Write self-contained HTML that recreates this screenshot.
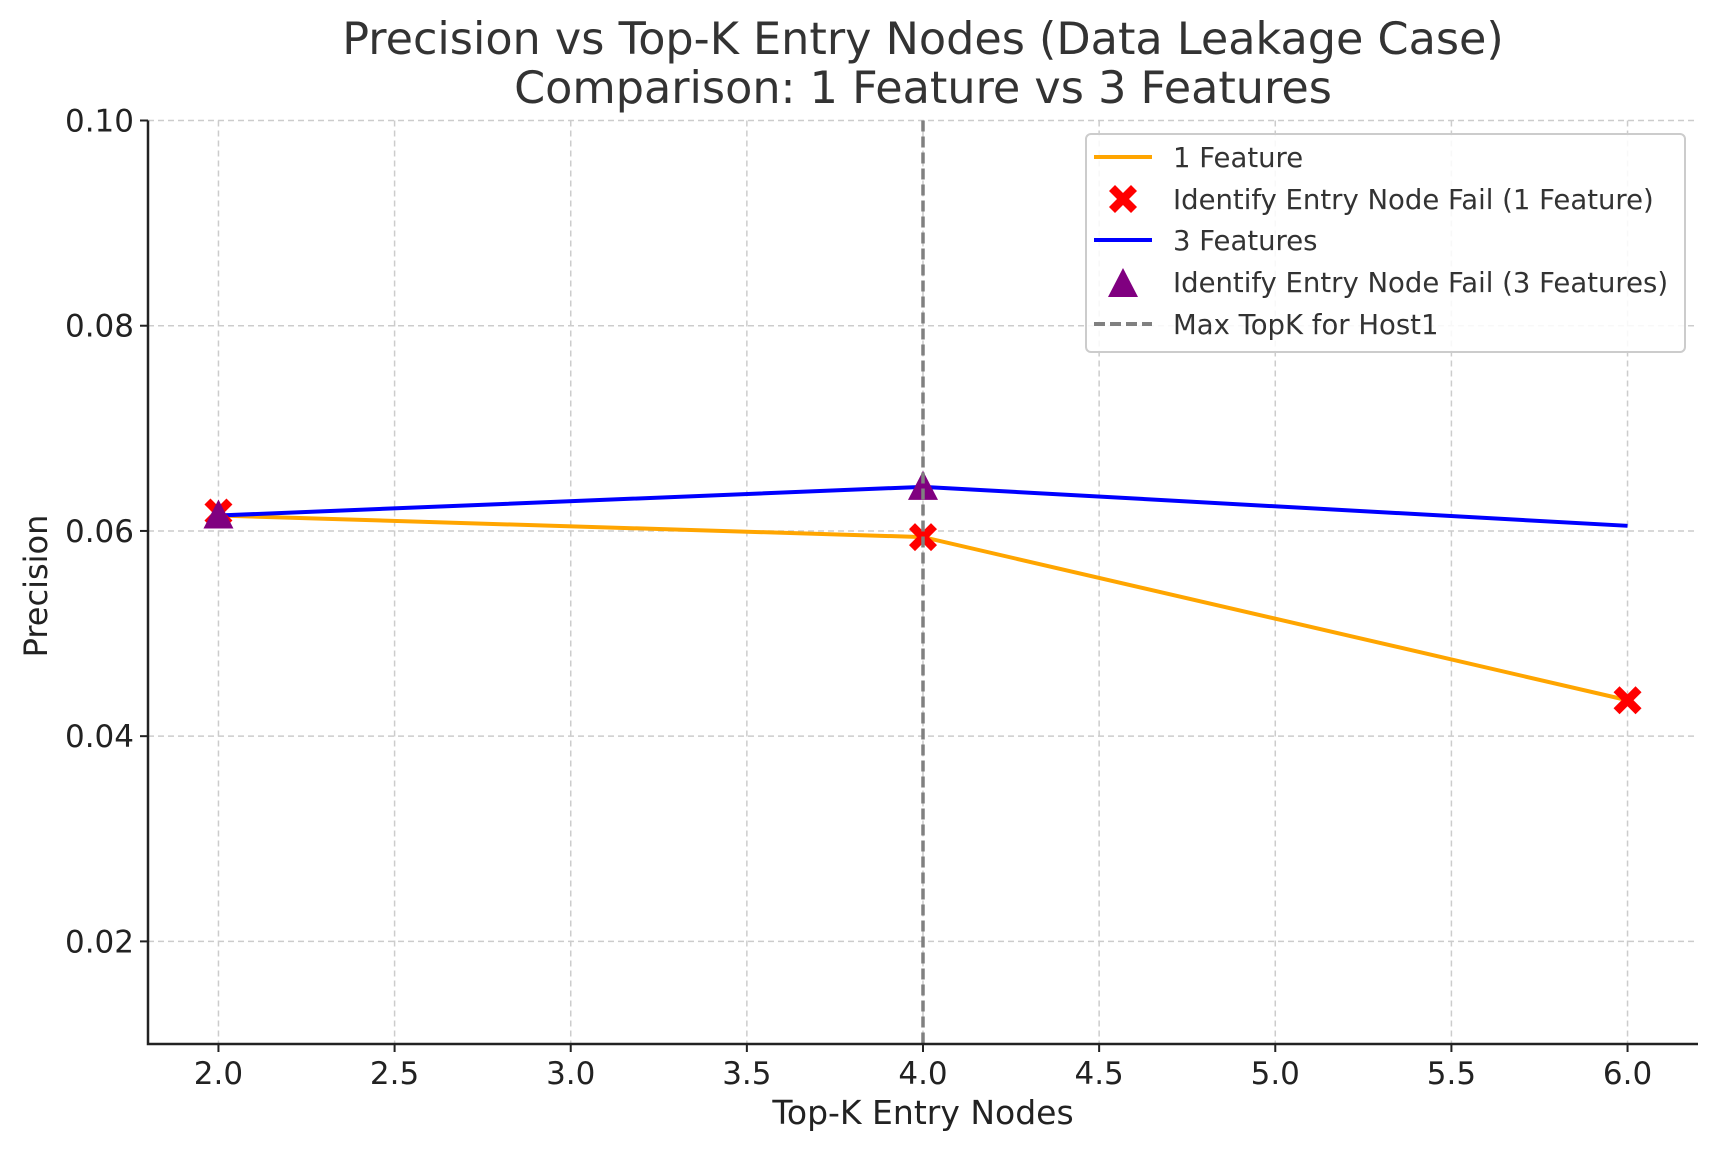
<!DOCTYPE html>
<html><head><meta charset="utf-8"><style>
html,body{margin:0;padding:0;background:#fff}
svg{display:block;font-family:"DejaVu Sans","Liberation Sans",sans-serif}
</style></head><body>
<svg id="chart" width="1718" height="1151" viewBox="0 0 1718 1151">
<rect width="1718" height="1151" fill="#fff"/>
<g id="grid"></g>
<g id="plot"></g>
<g id="axes"></g>
<text x="923" y="54" font-size="44.5" fill="#333" text-anchor="middle">Precision vs Top-K Entry Nodes (Data Leakage Case)</text>
<text x="923" y="103" font-size="44.5" fill="#333" text-anchor="middle">Comparison: 1 Feature vs 3 Features</text>
<text x="923" y="1124" font-size="33" fill="#222" text-anchor="middle">Top-K Entry Nodes</text>
<text transform="translate(47,586) rotate(-90)" font-size="32" fill="#222" text-anchor="middle">Precision</text>
<g>
<rect x="1086" y="134" width="599" height="218" rx="5" fill="#fff" fill-opacity="0.85" stroke="#ccc" stroke-width="2"/>
<line x1="1094" y1="157" x2="1152" y2="157" stroke="orange" stroke-width="4"/>
<text x="1173" y="167" font-size="27.5" fill="#333">1 Feature</text>
<path d="M-14,-8L-8,-14L0,-6L8,-14L14,-8L6,0L14,8L8,14L0,6L-8,14L-14,8L-6,0Z" transform="translate(1123,199)" fill="red"/>
<text x="1173" y="209" font-size="27.5" fill="#333">Identify Entry Node Fail (1 Feature)</text>
<line x1="1094" y1="240" x2="1152" y2="240" stroke="blue" stroke-width="4"/>
<text x="1173" y="250" font-size="27.5" fill="#333">3 Features</text>
<path d="M0,-16L15,13L-15,13Z" transform="translate(1123,284)" fill="purple"/>
<text x="1173" y="292" font-size="27.5" fill="#333">Identify Entry Node Fail (3 Features)</text>
<line x1="1094" y1="324" x2="1152" y2="324" stroke="gray" stroke-width="4" stroke-dasharray="11,5"/>
<text x="1173" y="334" font-size="27.5" fill="#333">Max TopK for Host1</text>
</g>
</svg>
<script>
const xTicks=[2.0,2.5,3.0,3.5,4.0,4.5,5.0,5.5,6.0];
const xTickLabels=["2.0","2.5","3.0","3.5","4.0","4.5","5.0","5.5","6.0"];
const yTicks=[0.02,0.04,0.06,0.08,0.10];
const yTickLabels=["0.02","0.04","0.06","0.08","0.10"];
const topK=[2,4,6];
const precision1=[0.0615,0.0594,0.0435];
const precision3=[0.0615,0.0643,0.0605];
const fail1K=[2,4,6];
const fail1P=[0.0618,0.0594,0.0435];
const fail3K=[2,4];
const fail3P=[0.0615,0.0643];
const maxTopK=4;

const L=148,R=1698,T=120.5,B=1044;
const X0=1.8,X1=6.2,Y0=0.01,Y1=0.10;
const sx=v=>L+(v-X0)/(X1-X0)*(R-L);
const sy=v=>B-(v-Y0)/(Y1-Y0)*(B-T);
const NS="http://www.w3.org/2000/svg";
function mk(tag,attrs,parent){const e=document.createElementNS(NS,tag);for(const k in attrs)e.setAttribute(k,attrs[k]);parent.appendChild(e);return e;}
const grid=document.getElementById('grid'),plot=document.getElementById('plot'),axes=document.getElementById('axes');
xTicks.forEach((t,i)=>{
  const g=mk('line',{x1:sx(t),x2:sx(t),y1:T,y2:B,stroke:'#ccc','stroke-width':1.5,'stroke-dasharray':'6,4'},grid);
  
  
  const tk=mk('line',{x1:sx(t),x2:sx(t),y1:B,y2:B+8,stroke:'#222','stroke-width':2},axes);
  
  
  const tx=mk('text',{x:sx(t),y:B+40,'font-size':31,fill:'#222','text-anchor':'middle'},axes);
  tx.textContent=xTickLabels[i];
  
  
});
yTicks.forEach((t,i)=>{
  const g=mk('line',{x1:L,x2:R,y1:sy(t),y2:sy(t),stroke:'#ccc','stroke-width':1.5,'stroke-dasharray':'6,4'},grid);
  
  
  const tk=mk('line',{x1:L-8,x2:L,y1:sy(t),y2:sy(t),stroke:'#222','stroke-width':2},axes);
  
  
  const tx=mk('text',{x:L-14,y:sy(t)+11,'font-size':31,fill:'#222','text-anchor':'end'},axes);
  tx.textContent=yTickLabels[i];
  
  
});
const ax=mk('path',{d:`M${L},${T}V${B}H${R}`,fill:'none',stroke:'#222','stroke-width':2.5},axes);


const pts=(xs,ys)=>xs.map((x,i)=>sx(x)+','+sy(ys[i])).join(' ');
const l1=mk('polyline',{points:pts(topK,precision1),fill:'none',stroke:'orange','stroke-width':4},plot);


const l3=mk('polyline',{points:pts(topK,precision3),fill:'none',stroke:'blue','stroke-width':4},plot);


fail1K.forEach((k,i)=>{
  const m=mk('path',{d:'M-14,-8L-8,-14L0,-6L8,-14L14,-8L6,0L14,8L8,14L0,6L-8,14L-14,8L-6,0Z',transform:`translate(${sx(k)},${sy(fail1P[i])})`,fill:'red'},plot);
  
  
});
fail3K.forEach((k,i)=>{
  const m=mk('path',{d:'M0,-16L15,13L-15,13Z',transform:`translate(${sx(k)},${sy(fail3P[i])})`,fill:'purple'},plot);
  
  
});
const v=mk('line',{x1:sx(maxTopK),x2:sx(maxTopK),y1:T,y2:B,stroke:'gray','stroke-width':3.5,'stroke-dasharray':'11,5'},plot);


</script>
</body></html>
